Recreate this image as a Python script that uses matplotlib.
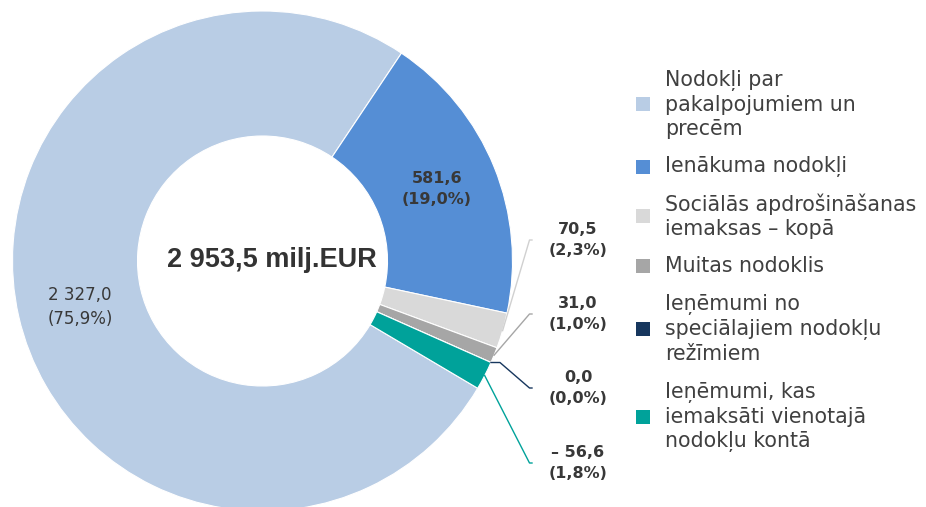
import numpy as np
import matplotlib
matplotlib.use("Agg")
import matplotlib.pyplot as plt
from matplotlib.patches import Rectangle

# categories and values (milj. EUR)
categories = [
    "Nodokļi par\npakalpojumiem un\nprecēm",
    "Ienākuma nodokļi",
    "Sociālās apdrošināšanas\niemaksas – kopā",
    "Muitas nodoklis",
    "Ieņēmumi no\nspeciālajiem nodokļu\nrežīmiem",
    "Ieņēmumi, kas\niemaksāti vienotajā\nnodokļu kontā",
]
values = [2327.0, 581.6, 70.5, 31.0, 0.0, -56.6]
colors = ["#B9CDE5", "#558ED5", "#D9D9D9", "#A6A6A6", "#17375E", "#00A29A"]

TXT = "#383838"


def fmt_num(v):
    s = f"{abs(v):,.1f}".replace(",", " ").replace(".", ",")
    return ("– " if v < 0 else "") + s


def fmt_pct(p):
    return f"({p:.1f}%)".replace(".", ",")


sizes = np.abs(values)
pcts = sizes / sizes.sum() * 100
total = sum(values)

W, H = 926, 507
fig = plt.figure(figsize=(W / 100, H / 100), dpi=100)
cx, cy, R = 262.5, 261, 250  # pie centre / radius in pixels
ax = fig.add_axes([(cx - R) / W, (H - cy - R) / H, 2 * R / W, 2 * R / H])

wedges, _ = ax.pie(sizes, colors=colors, startangle=-30.6, counterclock=False,
                   wedgeprops=dict(width=0.5, edgecolor="white", linewidth=0.8))
ax.set_xlim(-1, 1)
ax.set_ylim(-1, 1)
ax.set_aspect("auto")
ax.axis("off")

# centre total
ax.text(0.038, -0.024, fmt_num(total) + " milj.EUR", ha="center", va="baseline",
        fontsize=19.5, fontweight="bold", color="#333333", family="Liberation Sans")

# labels inside the two large slices
ax.text(-0.73, -0.184, fmt_num(values[0]) + "\n" + fmt_pct(pcts[0]), ha="center", va="center",
        fontsize=12, color=TXT, linespacing=1.48)
ax.text(0.698, 0.288, fmt_num(values[1]) + "\n" + fmt_pct(pcts[1]), ha="center", va="center",
        fontsize=11.5, fontweight="bold", color=TXT, linespacing=1.52)

# outside labels with leader lines
label_y = [0.084, -0.212, -0.508, -0.808]
elbow = [0.0, 0.0, 0.036, 0.0]
line_cols = ["#D0D0D0", "#A6A6A6", "#17375E", "#00A29A"]
for k, i in enumerate(range(2, 6)):
    w = wedges[i]
    mid = np.deg2rad((w.theta1 + w.theta2) / 2)
    ax0, ay0 = np.cos(mid) * 1.0, np.sin(mid) * 1.0
    xs = [ax0, ax0 + elbow[k], 1.068, 1.078]
    ys = [ay0, ay0, label_y[k], label_y[k]]
    ax.plot(xs, ys, color=line_cols[k], lw=1.0, clip_on=False)
    ax.text(1.262, label_y[k], fmt_num(values[i]) + "\n" + fmt_pct(pcts[i]), ha="center",
            va="center", fontsize=11.5, fontweight="bold", color=TXT, linespacing=1.52,
            clip_on=False)

# legend (drawn by hand to follow the original layout)
top, line_h, gap = 66, 25.5, 11.5
y = top
for lab, col in zip(categories, colors):
    n = lab.count("\n") + 1
    yc = y + n * line_h / 2
    fig.patches.append(Rectangle((636 / W, 1 - (yc + 7) / H), 14 / W, 14 / H,
                                 transform=fig.transFigure, facecolor=col, edgecolor="none"))
    fig.text(665 / W, 1 - yc / H, lab, ha="left", va="center", fontsize=14.8,
             color="#404040", linespacing=1.24)
    y += n * line_h + gap

fig.savefig("out.png", dpi=100)
